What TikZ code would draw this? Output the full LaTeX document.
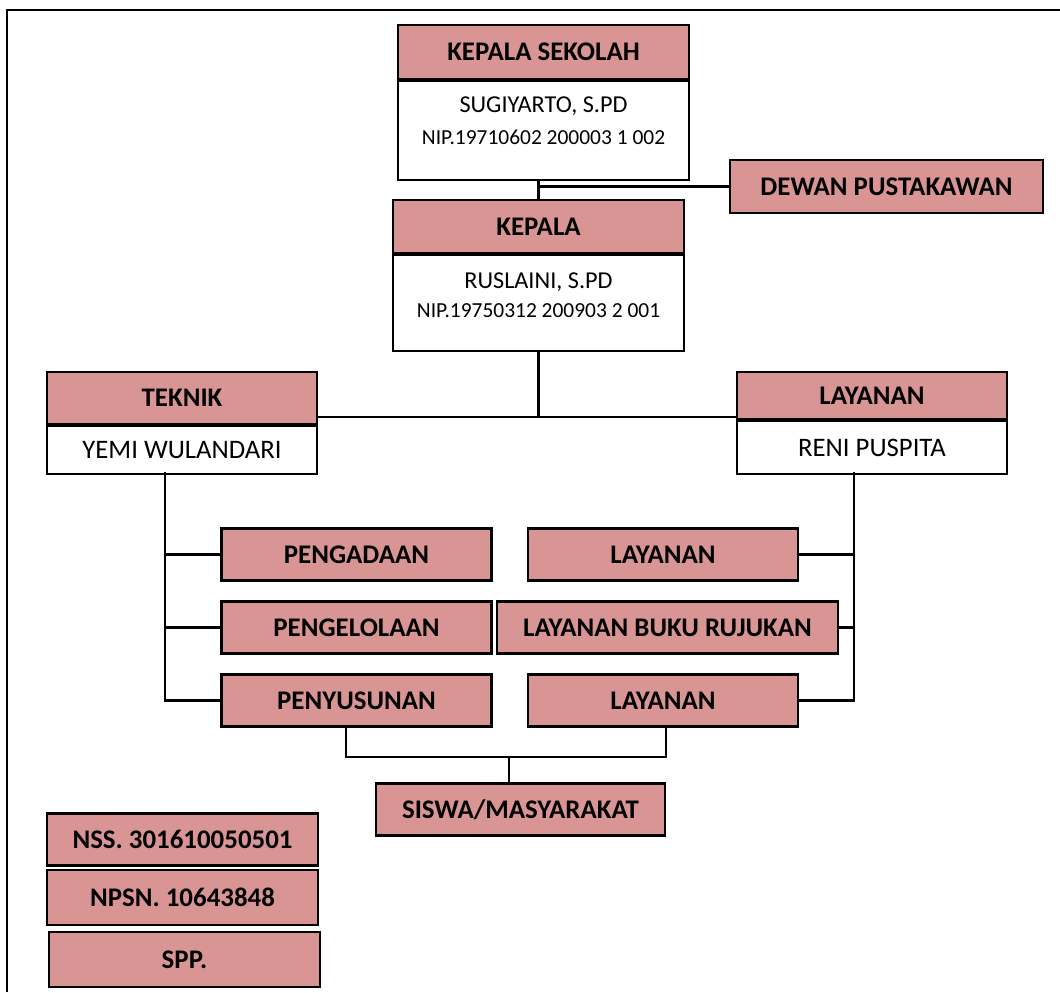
\documentclass[tikz,border=0pt]{standalone}
\usepackage{fontspec}
\setmainfont{Carlito}
\definecolor{rosa}{HTML}{D99594}
\tikzset{
	garis/.style={line width=1.2pt},
	kop/.style={draw,fill=rosa,garis,inner sep=0pt,font=\bfseries\fontsize{15.3}{18}\selectfont},
	unit/.style={kop,minimum width=5.4cm,minimum height=1.04cm},
	isi/.style={draw,fill=white,garis,inner sep=0pt,font=\fontsize{15.2}{18}\selectfont},
	nama/.style={inner sep=0pt,font=\fontsize{13.8}{16}\selectfont},
	nip/.style={inner sep=0pt,font=\fontsize{12.2}{14}\selectfont}
}
\begin{document}
\begin{tikzpicture}
		\useasboundingbox (0,0) rectangle (21.2,19.84);
		\draw[garis] (0.14,0) -- (0.14,19.64) -- (21.2,19.64);
		%
		\node[kop,minimum width=5.82cm,minimum height=1.08cm] (ks) at (10.87,18.8) {KEPALA SEKOLAH};
		\node[isi,minimum width=5.82cm,minimum height=1.98cm,anchor=north] (ksb) at (ks.south) {};
		\node[nama] (ksnama) at (10.87,17.72) {SUGIYARTO, S.PD};
		\node[nip] (ksnip) at (10.87,17.1) {NIP.19710602 200003 1 002};
		\node[kop,minimum width=6.26cm,minimum height=1.06cm] (dewan) at (17.73,16.11) {DEWAN PUSTAKAWAN};
		%
		\node[kop,minimum width=5.82cm,minimum height=1.06cm] (kp) at (10.77,15.31) {KEPALA};
		\node[isi,minimum width=5.82cm,minimum height=1.92cm,anchor=north] (kpb) at (kp.south) {};
		\node[nama] (kpnama) at (10.77,14.2) {RUSLAINI, S.PD};
		\node[nip] (kpnip) at (10.77,13.62) {NIP.19750312 200903 2 001};
		%
		\node[kop,minimum width=5.4cm,minimum height=1.04cm] (tek) at (3.64,11.88) {TEKNIK};
		\node[isi,minimum width=5.4cm,minimum height=0.96cm,anchor=north] (tekb) at (tek.south) {YEMI WULANDARI};
		\node[kop,minimum width=5.4cm,minimum height=0.94cm] (lay) at (17.44,11.93) {LAYANAN};
		\node[isi,minimum width=5.4cm,minimum height=1.06cm,anchor=north] (layb) at (lay.south) {RENI PUSPITA};
		%
		\node[unit] (peng) at (7.13,8.75) {PENGADAAN};
		\node[unit] (pgl) at (7.13,7.29) {PENGELOLAAN};
		\node[unit] (peny) at (7.13,5.83) {PENYUSUNAN};
		\node[unit] (lay1) at (13.26,8.75) {LAYANAN};
		\node[unit,minimum width=6.82cm] (buku) at (13.35,7.29) {LAYANAN BUKU RUJUKAN};
		\node[unit] (lay3) at (13.26,5.83) {LAYANAN};
		\node[unit,minimum width=5.78cm] (siswa) at (10.41,3.65) {SISWA/MASYARAKAT};
		%
		\node[unit,minimum width=5.42cm] (nss) at (3.65,3.05) {NSS. 301610050501};
		\node[unit,minimum width=5.42cm,minimum height=1.1cm] (npsn) at (3.65,1.89) {NPSN. 10643848};
		\node[unit,minimum width=5.42cm,minimum height=1.1cm] (spp) at (3.69,0.65) {SPP.};
		%
		\coordinate (hub) at (10.77,11.5);
		\coordinate (kiri) at (3.3,10.4);
		\coordinate (kanan) at (17.08,10.4);
		\coordinate (bkiri) at (6.92,4.7);
		\coordinate (bkanan) at (13.32,4.7);
		\coordinate (btengah) at (10.18,4.7);
		%
		\draw[garis] (kp.north) -- (kp.north |- ksb.south);
		\draw[garis] (dewan.west) -- (dewan.west -| kp.north);
		\draw[garis] (kpb.south) -- (hub);
		\draw[garis] (tek.east |- hub) -- (lay.west |- hub);
		%
		\draw[garis] (kiri) -- (kiri |- peny.west) -- (peny.west);
		\draw[garis] (kiri |- peng.west) -- (peng.west);
		\draw[garis] (kiri |- pgl.west) -- (pgl.west);
		\draw[garis] (kanan) -- (kanan |- lay3.east) -- (lay3.east);
		\draw[garis] (lay1.east) -- (lay1.east -| kanan);
		\draw[garis] (buku.east) -- (buku.east -| kanan);
		%
		\draw[garis] (bkiri |- peny.south) -- (bkiri) -- (bkanan) -- (bkanan |- lay3.south);
		\draw[garis] (btengah) -- (btengah |- siswa.north);
\end{tikzpicture}
\end{document}
